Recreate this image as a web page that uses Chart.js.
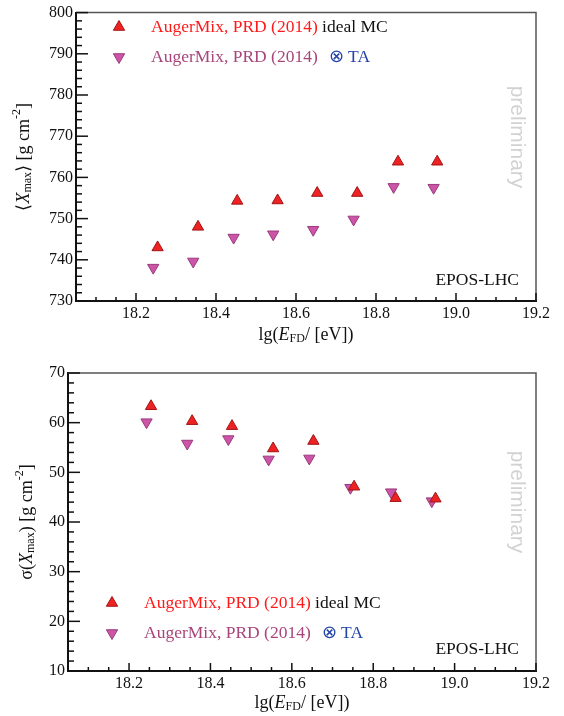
<!DOCTYPE html>
<html>
<head>
<meta charset="utf-8">
<script src="https://cdn.jsdelivr.net/npm/chart.js@4.4.1/dist/chart.umd.min.js"></script>
<style>
  html, body { margin: 0; padding: 0; background: #fff; }
  .panel { position: absolute; left: 0; width: 564px; height: 358px; }
</style>
</head>
<body>
<div class="panel" style="top:0"><canvas id="meanChart" width="564" height="358"></canvas></div>
<div class="panel" style="top:358px"><canvas id="sigmaChart" width="564" height="358"></canvas></div>
<script>
// lg(E/eV) bin positions (the two sets are slightly shifted in the plot)
const energyMC = [18.254, 18.355, 18.453, 18.554, 18.653, 18.753, 18.855, 18.953];
const energyTA = [18.243, 18.343, 18.444, 18.543, 18.643, 18.744, 18.844, 18.944];

// <Xmax> [g cm^-2]
const meanXmaxMC = [743.0, 748.0, 754.3, 754.4, 756.2, 756.2, 763.8, 763.8];
const meanXmaxTA = [738.1, 739.6, 745.4, 746.2, 747.3, 749.8, 757.7, 757.5];

// sigma(Xmax) [g cm^-2]
const sigmaXmaxMC = [63.3, 60.3, 59.3, 54.8, 56.3, 47.1, 44.8, 44.7];
const sigmaXmaxTA = [60.1, 55.8, 56.7, 52.6, 52.8, 46.9, 46.0, 44.2];

// tick labels
const energyTicks = [18.2, 18.4, 18.6, 18.8, 19.0, 19.2];
const meanTicks = [730, 740, 750, 760, 770, 780, 790, 800];
const sigmaTicks = [10, 20, 30, 40, 50, 60, 70];

const labelMC = "AugerMix, PRD (2014)";
const labelMCsuffix = " ideal MC";
const labelTA = "AugerMix, PRD (2014)";
const labelTAsuffix = "\u2297 TA";
const modelLabel = "EPOS-LHC";
const watermark = "preliminary";

const SERIF = '"Liberation Serif", "Times New Roman", serif';
const mcFill = '#ee2222', mcBorder = '#a01515';
const taFill = '#cc55a8', taBorder = '#9a3a7c';
const markerSize = 6.5;

function toPoints(xs, ys) {
    return xs.map((x, i) => ({ x: x, y: ys[i] }));
}

// draws a sequence of text pieces (with optional sub/superscript shifts)
function drawRich(ctx, parts, x, y) {
    let cx = x;
    parts.forEach(p => {
        ctx.font = p.font;
        ctx.fillText(p.text, cx, y + (p.dy || 0));
        cx += ctx.measureText(p.text).width;
    });
    return cx;
}
function richWidth(ctx, parts) {
    let w = 0;
    parts.forEach(p => { ctx.font = p.font; w += ctx.measureText(p.text).width; });
    return w;
}

const F = '18px ' + SERIF, FI = 'italic 18px ' + SERIF, FS = '12px ' + SERIF;
const FL = '17.5px ' + SERIF;

function xTitleParts() {
    return [
        { text: 'lg(', font: F },
        { text: 'E', font: FI },
        { text: 'FD', font: FS, dy: 4 },
        { text: '/ [eV])', font: F },
    ];
}

// inward ticks, frame, titles, legend and labels
const decorPlugin = {
    id: 'decor',
    afterDraw(chart, args, opts) {
        const ctx = chart.ctx;
        const a = chart.chartArea;
        const xs = chart.scales.x, ys = chart.scales.y;
        ctx.save();

        // top / right frame
        ctx.strokeStyle = '#555';
        ctx.lineWidth = 1.5;
        ctx.beginPath();
        ctx.moveTo(a.left, a.top);
        ctx.lineTo(a.right, a.top);
        ctx.lineTo(a.right, a.bottom);
        ctx.stroke();

        // x ticks every 0.05, major every 0.2
        ctx.strokeStyle = '#111';
        ctx.lineWidth = 1.5;
        for (let i = 361; i <= 384; i++) {
            const v = i * 0.05;
            const px = xs.getPixelForValue(v);
            const major = i % 4 === 0;
            ctx.beginPath();
            ctx.moveTo(px, a.bottom);
            ctx.lineTo(px, a.bottom - (major ? 8 : 4));
            ctx.stroke();
        }
        // y ticks every 2, major every 10
        for (let v = ys.min; v <= ys.max + 0.01; v += 2) {
            const py = ys.getPixelForValue(v);
            const major = Math.round(v) % 10 === 0;
            ctx.beginPath();
            ctx.moveTo(a.left, py);
            ctx.lineTo(a.left + (major ? 12 : 6), py);
            ctx.stroke();
        }

        ctx.fillStyle = '#111';
        ctx.textBaseline = 'middle';
        ctx.textAlign = 'left';

        // x title
        const xp = xTitleParts();
        const xw = richWidth(ctx, xp);
        drawRich(ctx, xp, (a.left + a.right) / 2 - xw / 2, opts.xTitleY);

        // y title, rotated
        const yp = opts.yTitle;
        ctx.save();
        ctx.translate(opts.yTitleX, (a.top + a.bottom) / 2);
        ctx.rotate(-Math.PI / 2);
        const yw = richWidth(ctx, yp);
        drawRich(ctx, yp, -yw / 2, 0);
        ctx.restore();

        // legend
        const lg = opts.legend;
        ctx.save();
        ctx.lineWidth = 1;
        ctx.fillStyle = mcFill; ctx.strokeStyle = mcBorder;
        Chart.helpers.drawPoint(ctx, { pointStyle: 'triangle', radius: markerSize, rotation: 0, borderWidth: 1 }, lg.markerX, lg.y1);
        ctx.fillStyle = taFill; ctx.strokeStyle = taBorder;
        Chart.helpers.drawPoint(ctx, { pointStyle: 'triangle', radius: markerSize, rotation: 180, borderWidth: 1 }, lg.markerX, lg.y2);
        ctx.restore();

        ctx.font = FL;
        ctx.fillStyle = '#ff1a1a';
        ctx.fillText(labelMC, lg.textX, lg.y1);
        let w = ctx.measureText(labelMC).width;
        ctx.fillStyle = '#111';
        ctx.fillText(labelMCsuffix, lg.textX + w, lg.y1);
        ctx.fillStyle = '#a8457a';
        ctx.fillText(labelTA, lg.textX, lg.y2);
        w = ctx.measureText(labelTA).width;
        ctx.fillStyle = '#2445a8';
        ctx.fillText(labelTAsuffix, lg.textX + w + 11, lg.y2);

        // model label
        ctx.fillStyle = '#111';
        ctx.textAlign = 'right';
        ctx.fillText(modelLabel, a.right - 17, opts.modelY);

        // watermark
        ctx.save();
        ctx.translate(517, opts.wmY);
        ctx.rotate(Math.PI / 2);
        ctx.textAlign = 'center';
        ctx.font = '21px "Liberation Sans", Arial, sans-serif';
        ctx.fillStyle = '#d2d2d2';
        ctx.fillText(watermark, 0, 0);
        ctx.restore();

        ctx.restore();
    }
};

function makeChart(id, cfg) {
    return new Chart(document.getElementById(id), {
        type: 'scatter',
        data: {
            datasets: [
                {
                    label: labelMC + labelMCsuffix,
                    data: toPoints(energyMC, cfg.mc),
                    pointStyle: 'triangle',
                    rotation: 0,
                    pointRadius: markerSize,
                    backgroundColor: mcFill,
                    borderColor: mcBorder,
                    borderWidth: 1,
                },
                {
                    label: labelTA + ' ' + labelTAsuffix,
                    data: toPoints(energyTA, cfg.ta),
                    pointStyle: 'triangle',
                    rotation: 180,
                    pointRadius: markerSize,
                    backgroundColor: taFill,
                    borderColor: taBorder,
                    borderWidth: 1,
                },
            ],
        },
        options: {
            responsive: false,
            animation: false,
            layout: { padding: { top: cfg.padTop, right: 28, left: 0, bottom: 0 } },
            plugins: {
                legend: { display: false },
                tooltip: { enabled: false },
                decor: cfg.decor,
            },
            scales: {
                x: {
                    type: 'linear',
                    min: 18.05,
                    max: 19.2,
                    afterBuildTicks: s => { s.ticks = energyTicks.map(v => ({ value: v })); },
                    afterFit: s => { s.height = cfg.xHeight; },
                    grid: { display: false, drawTicks: false },
                    border: { display: true, color: '#111', width: 2 },
                    ticks: {
                        padding: 3,
                        color: '#111',
                        font: { family: SERIF, size: 16 },
                        callback: v => Number(v).toFixed(1),
                    },
                },
                y: {
                    type: 'linear',
                    min: cfg.yTicks[0],
                    max: cfg.yTicks[cfg.yTicks.length - 1],
                    afterBuildTicks: s => { s.ticks = cfg.yTicks.map(v => ({ value: v })); },
                    afterFit: s => { s.width = cfg.yWidth; },
                    grid: { display: false, drawTicks: false },
                    border: { display: true, color: '#111', width: 2 },
                    ticks: {
                        padding: 3,
                        color: '#111',
                        font: { family: SERIF, size: 16 },
                        callback: v => String(v),
                    },
                },
            },
        },
        plugins: [decorPlugin],
    });
}

makeChart('meanChart', {
    mc: meanXmaxMC,
    ta: meanXmaxTA,
    yTicks: meanTicks,
    padTop: 8,
    xHeight: 57,
    yWidth: 76,
    decor: {
        xTitleY: 335,
        yTitleX: 24,
        yTitle: [
            { text: '\u27E8', font: F },
            { text: 'X', font: FI },
            { text: 'max', font: FS, dy: 4 },
            { text: '\u27E9 [g cm', font: F },
            { text: '-2', font: FS, dy: -7 },
            { text: ']', font: F },
        ],
        legend: { markerX: 119, textX: 151, y1: 27, y2: 57 },
        modelY: 280,
        wmY: 137,
    },
});

makeChart('sigmaChart', {
    mc: sigmaXmaxMC,
    ta: sigmaXmaxTA,
    yTicks: sigmaTicks,
    padTop: 15,
    xHeight: 45,
    yWidth: 68,
    decor: {
        xTitleY: 345,
        yTitleX: 27,
        yTitle: [
            { text: '\u03C3(', font: F },
            { text: 'X', font: FI },
            { text: 'max', font: FS, dy: 4 },
            { text: ') [g cm', font: F },
            { text: '-2', font: FS, dy: -7 },
            { text: ']', font: F },
        ],
        legend: { markerX: 112, textX: 144, y1: 245, y2: 275 },
        modelY: 291,
        wmY: 144,
    },
});
</script>
</body>
</html>
